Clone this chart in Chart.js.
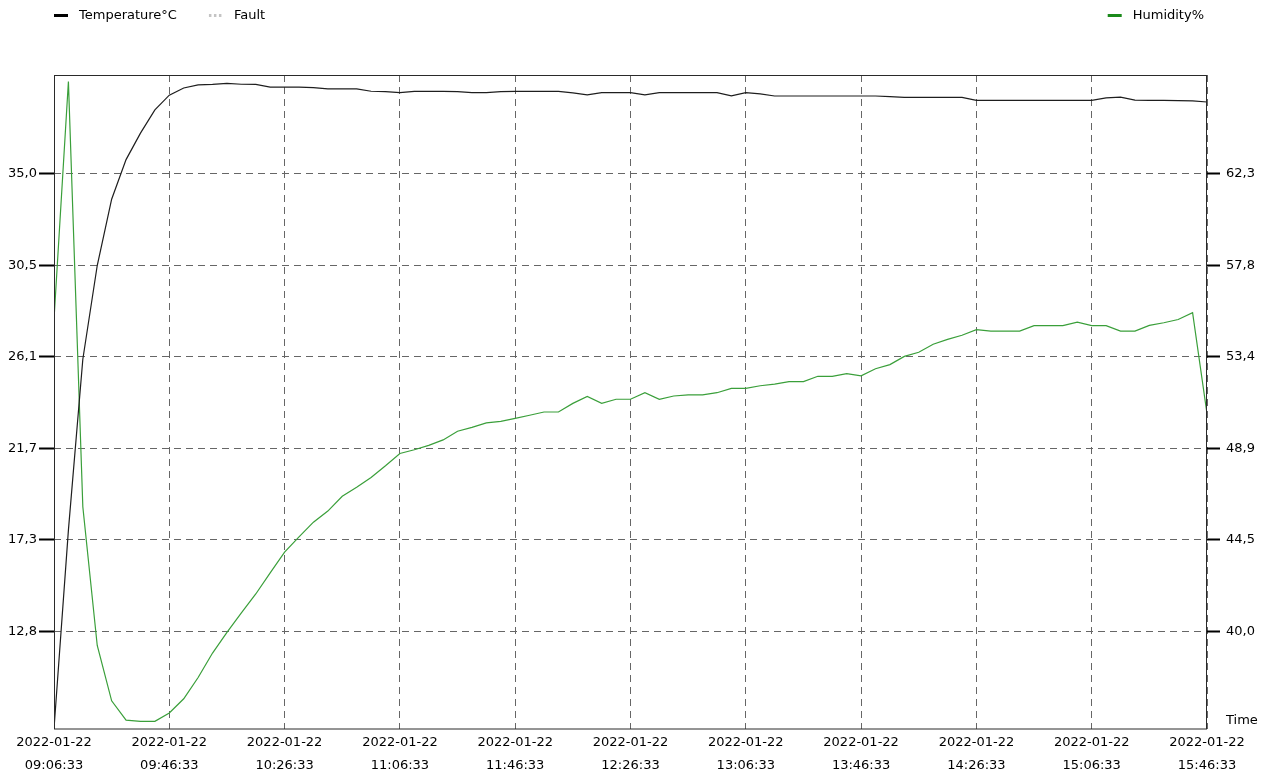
<!DOCTYPE html>
<html>
<head>
<meta charset="utf-8">
<script src="https://cdn.jsdelivr.net/npm/chart.js@4.4.0/dist/chart.umd.min.js"></script>
<style>
  html, body { margin: 0; padding: 0; background: #fff; }
</style>
</head>
<body>
<canvas id="grafico" width="1270" height="776"></canvas>
<script>
const fecha = '2022-01-22';
const horasEje = ['09:06:33', '09:46:33', '10:26:33', '11:06:33', '11:46:33', '12:26:33',
                  '13:06:33', '13:46:33', '14:26:33', '15:06:33', '15:46:33'];
const minutosMuestra = 5;
const minutosEje = 40;

const temperatura = [
    8.10, 17.72, 26.00, 30.54, 33.75, 35.67, 36.95, 38.08, 38.79, 39.14,
    39.29, 39.31, 39.36, 39.32, 39.31, 39.18, 39.18, 39.18, 39.16, 39.10,
    39.10, 39.10, 38.98, 38.96, 38.91, 38.97, 38.97, 38.97, 38.96, 38.91,
    38.91, 38.96, 38.97, 38.97, 38.97, 38.97, 38.90, 38.81, 38.91, 38.91,
    38.91, 38.81, 38.91, 38.91, 38.91, 38.91, 38.91, 38.76, 38.91, 38.85,
    38.75, 38.75, 38.75, 38.75, 38.75, 38.75, 38.75, 38.75, 38.72, 38.68,
    38.68, 38.68, 38.68, 38.68, 38.54, 38.54, 38.54, 38.54, 38.54, 38.54,
    38.54, 38.54, 38.54, 38.66, 38.70, 38.55, 38.54, 38.54, 38.53, 38.51,
    38.46
];
const humedad = [
    55.20, 66.80, 46.07, 39.31, 36.61, 35.67, 35.61, 35.61, 36.02, 36.71,
    37.75, 38.94, 39.95, 40.90, 41.82, 42.85, 43.86, 44.60, 45.32, 45.86,
    46.58, 47.02, 47.50, 48.07, 48.67, 48.85, 49.06, 49.33, 49.75, 49.94,
    50.16, 50.23, 50.38, 50.53, 50.69, 50.69, 51.11, 51.45, 51.11, 51.31,
    51.31, 51.63, 51.31, 51.47, 51.52, 51.52, 51.63, 51.84, 51.84, 51.97,
    52.05, 52.17, 52.17, 52.43, 52.43, 52.56, 52.45, 52.80, 53.00, 53.40,
    53.60, 53.99, 54.23, 54.43, 54.70, 54.63, 54.63, 54.63, 54.90, 54.90,
    54.90, 55.07, 54.90, 54.90, 54.63, 54.63, 54.91, 55.04, 55.20, 55.53,
    50.61
];
const falla = [];

// Marcas de los ejes
const ticksTemp = [12.82, 17.252, 21.684, 26.116, 30.548, 34.98];
const ticksHum = [40.0, 44.46, 48.92, 53.38, 57.84, 62.3];

const aPuntos = serie => serie.map((v, i) => ({ x: i * minutosMuestra, y: v }));
const coma = v => v.toFixed(1).replace('.', ',');

Chart.defaults.font.family = '"DejaVu Sans", sans-serif';
Chart.defaults.font.size = 13;
Chart.defaults.color = '#000';

// Leyenda, recuadro y texto "Time" dibujados a mano
const extras = {
    id: 'extras',
    afterDraw(chart) {
        const ctx = chart.ctx;
        const area = chart.chartArea;
        const ds = chart.data.datasets;
        const y = 15.5;
        ctx.save();
        ctx.font = '13px "DejaVu Sans"';
        ctx.textBaseline = 'middle';
        ctx.textAlign = 'left';
        ctx.fillStyle = '#000';

        const item = (d, x) => {
            ctx.strokeStyle = d.colorLeyenda;
            ctx.lineWidth = 3;
            ctx.setLineDash(d.guionLeyenda || []);
            ctx.beginPath();
            ctx.moveTo(x, y);
            ctx.lineTo(x + 14, y);
            ctx.stroke();
            ctx.setLineDash([]);
            ctx.fillText(d.label, x + 25, y);
            return x + 25 + ctx.measureText(d.label).width;
        };
        let x = item(ds[0], area.left);
        item(ds[1], x + 32);
        const w = ctx.measureText(ds[2].label).width;
        item(ds[2], area.right - 3 - w - 25);

        ctx.fillText('Time', area.right + 19, area.bottom - 8);

        ctx.strokeStyle = '#2a2a2a';
        ctx.lineWidth = 1;
        ctx.strokeRect(area.left + 0.5, area.top + 0.5, area.right - area.left - 1, area.bottom - area.top - 0.5);
        ctx.restore();
    }
};

new Chart(document.getElementById('grafico'), {
    type: 'line',
    data: {
        datasets: [
            {
                label: 'Temperature°C',
                data: aPuntos(temperatura),
                borderColor: '#1e1e1e',
                borderWidth: 1.2,
                yAxisID: 'y',
                colorLeyenda: '#000'
            },
            {
                label: 'Fault',
                data: aPuntos(falla),
                borderColor: '#c4c4c4',
                borderWidth: 1.2,
                yAxisID: 'y',
                colorLeyenda: '#c4c4c4',
                guionLeyenda: [2.5, 2.5]
            },
            {
                label: 'Humidity%',
                data: aPuntos(humedad),
                borderColor: '#3a9f3a',
                borderWidth: 1.2,
                yAxisID: 'y1',
                colorLeyenda: '#1b8a1b'
            }
        ]
    },
    options: {
        responsive: false,
        animation: false,
        layout: { padding: { top: 75 } },
        elements: { point: { radius: 0 }, line: { tension: 0 } },
        plugins: { legend: { display: false }, tooltip: { enabled: false } },
        scales: {
            x: {
                type: 'linear',
                min: 0,
                max: minutosEje * (horasEje.length - 1),
                afterBuildTicks: s => { s.ticks = horasEje.map((h, i) => ({ value: i * minutosEje })); },
                afterFit: s => { s.height = 47; },
                ticks: {
                    autoSkip: false,
                    maxRotation: 0,
                    padding: 2,
                    font: { size: 13, lineHeight: 1.8 },
                    callback: v => [fecha, horasEje[Math.round(v / minutosEje)]]
                },
                grid: { color: '#666', drawTicks: false },
                border: { display: false, dash: [7, 5] }
            },
            y: {
                position: 'left',
                min: 8.088,
                max: 39.768,
                afterBuildTicks: s => { s.ticks = ticksTemp.map(v => ({ value: v })); },
                afterFit: s => { s.width = 54; },
                ticks: { padding: 2, callback: coma },
                grid: { color: '#666', tickColor: '#000', tickWidth: 2, tickLength: 15 },
                border: { display: false, dash: [7, 5] }
            },
            y1: {
                position: 'right',
                min: 35.238,
                max: 67.116,
                afterBuildTicks: s => { s.ticks = ticksHum.map(v => ({ value: v })); },
                afterFit: s => { s.width = 63; },
                ticks: { padding: 6, callback: coma },
                grid: { drawOnChartArea: false, tickColor: '#000', tickWidth: 2, tickLength: 13 },
                border: { display: false }
            }
        }
    },
    plugins: [extras]
});
</script>
</body>
</html>
